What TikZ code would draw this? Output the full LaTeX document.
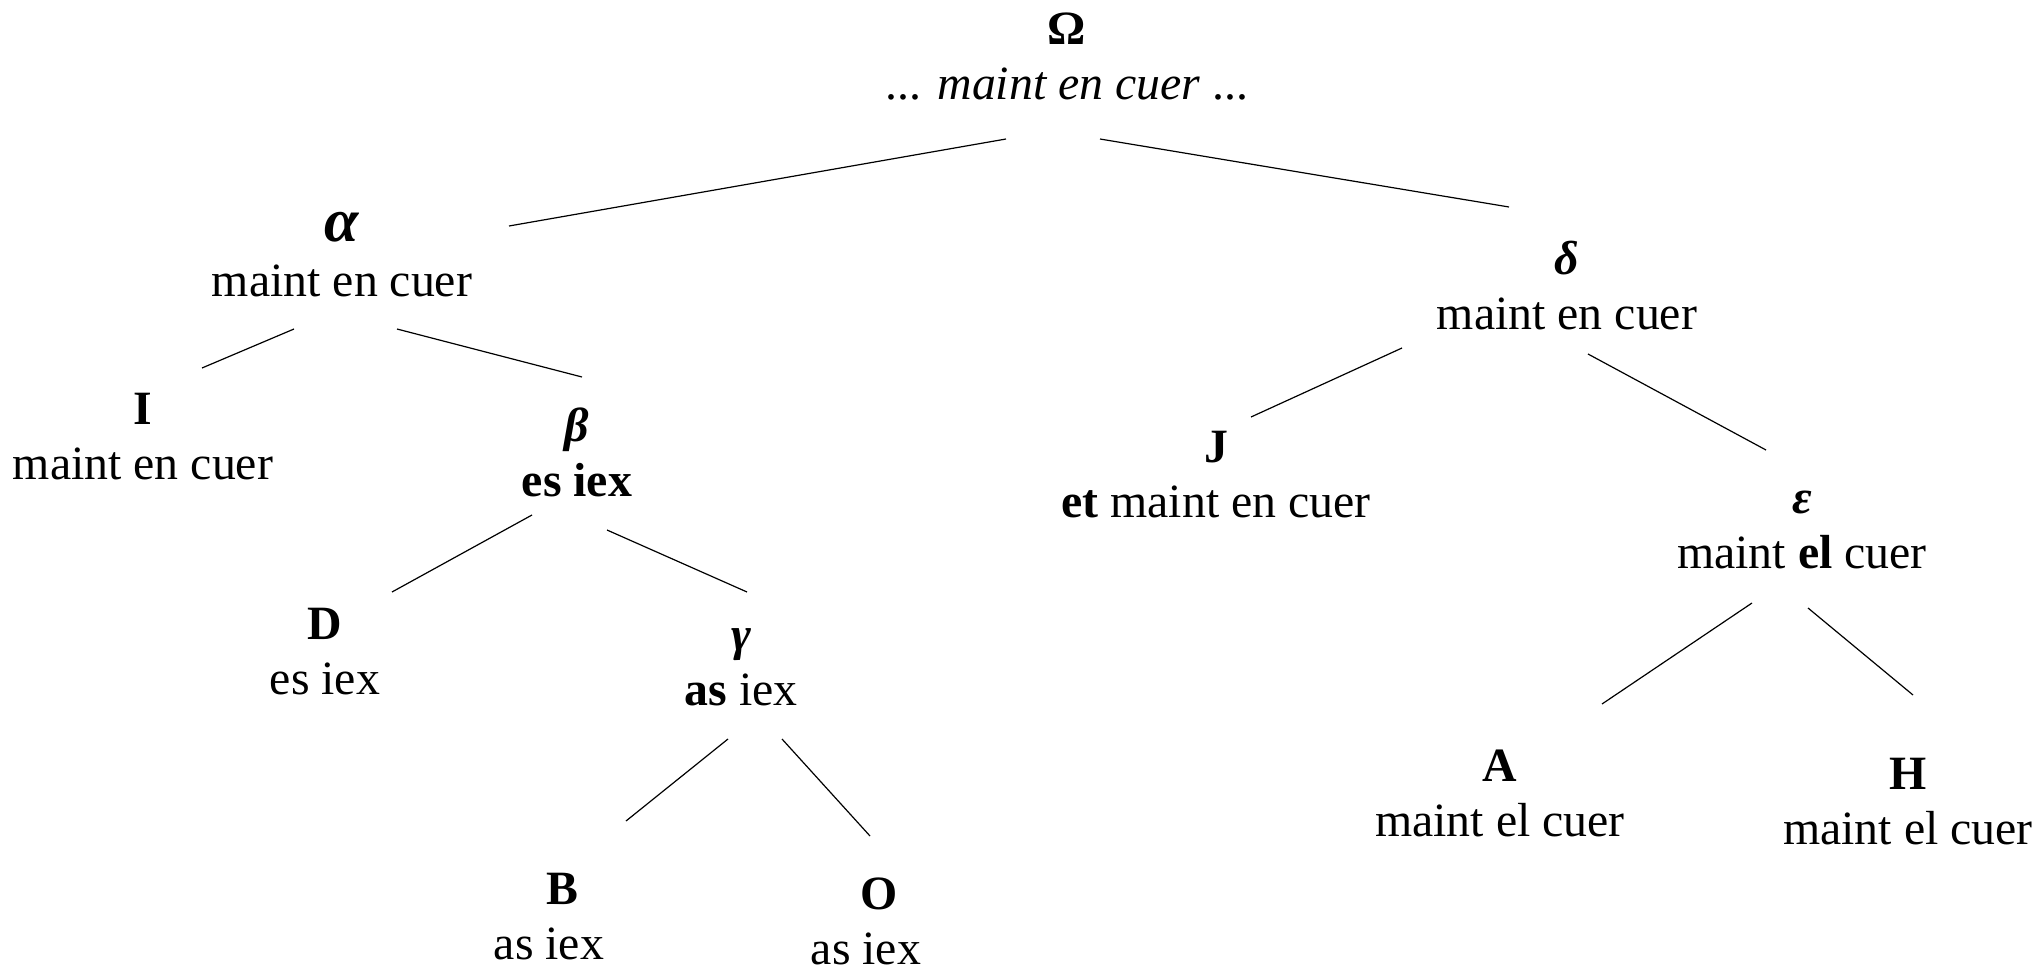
\documentclass[tikz,border=0pt]{standalone}
\usepackage{fontspec}
\setmainfont{Liberation Serif}
\begin{document}
\begin{tikzpicture}[x=0.5pt,y=-0.5pt,
  tn/.style={align=center, inner sep=0pt, font=\fontsize{23.9}{27.5}\selectfont},
  branch/.style={line width=0.6pt}]
\useasboundingbox (0,0) rectangle (2041,969);

% stemma nodes
\node[tn] (om) at (1067,57)  {\textbf{Ω}\\... \textit{maint en cuer} ...};
\node[tn] (al) at (342,255)  {{\fontsize{31}{27.5}\selectfont\textbf{\textit{α}}}\\maint en cuer};
\node[tn] (I)  at (143,437)  {\textbf{I}\\maint en cuer};
\node[tn] (be) at (577,452)  {\textbf{\textit{β}}\\\textbf{es iex}};
\node[tn] (D)  at (325,652)  {\textbf{D}\\es iex};
\node[tn] (ga) at (741,667)  {\textbf{\textit{γ}}\\\textbf{as} iex};
\node[tn] (B)  at (549,917)  {\hspace*{13pt}\textbf{B}\\as iex};
\node[tn] (O)  at (866,921)  {\hspace*{13pt}\textbf{O}\\as iex};
\node[tn] (de) at (1567,286) {\textbf{\textit{δ}}\\maint en cuer};
\node[tn] (J)  at (1216,475) {\textbf{J}\\\textbf{et} maint en cuer};
\node[tn] (ep) at (1802,530) {\textbf{\textit{ε}}\\maint \textbf{el} cuer};
\node[tn] (A)  at (1500,793) {\textbf{A}\\maint el cuer};
\node[tn] (H)  at (1908,802) {\textbf{H}\\maint el cuer};

% branches
\draw[branch] ([shift={(-61,82)}]om.center) -- ([shift={(167,-29)}]al.center);
\draw[branch] ([shift={(33,82)}]om.center)  -- ([shift={(-58,-79)}]de.center);
\draw[branch] ([shift={(-48,74)}]al.center) -- ([shift={(59,-69)}]I.center);
\draw[branch] ([shift={(55,74)}]al.center)  -- ([shift={(5,-75)}]be.center);
\draw[branch] ([shift={(-45,63)}]be.center) -- ([shift={(67,-60)}]D.center);
\draw[branch] ([shift={(30,78)}]be.center)  -- ([shift={(6,-75)}]ga.center);
\draw[branch] ([shift={(-13,72)}]ga.center) -- ([shift={(77,-96)}]B.center);
\draw[branch] ([shift={(41,72)}]ga.center)  -- ([shift={(4,-85)}]O.center);
\draw[branch] ([shift={(-165,62)}]de.center) -- ([shift={(35,-58)}]J.center);
\draw[branch] ([shift={(21,68)}]de.center)  -- ([shift={(-36,-80)}]ep.center);
\draw[branch] ([shift={(-50,73)}]ep.center) -- ([shift={(102,-89)}]A.center);
\draw[branch] ([shift={(6,78)}]ep.center)   -- ([shift={(5,-107)}]H.center);
\end{tikzpicture}
\end{document}
